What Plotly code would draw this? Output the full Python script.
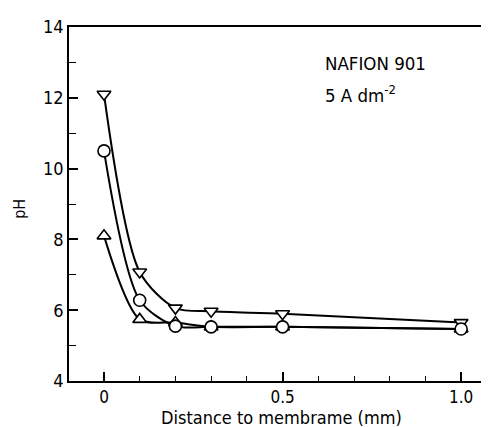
import plotly.graph_objects as go

x_vals = [0, 0.1, 0.2, 0.3, 0.5, 1.0]
ph_tri_down = [12.1, 7.08, 6.06, 5.97, 5.9, 5.65]
ph_circle = [10.5, 6.28, 5.55, 5.53, 5.53, 5.47]
x_tri_up = [0, 0.1, 0.2, 0.3, 0.5, 1.0]
ph_tri_up = [8.1, 5.74, 5.65, 5.53, 5.53, 5.47]

FONT = "DejaVu Sans Condensed, DejaVu Sans"
fig = go.Figure()

def add(xs, ys, sym):
    fig.add_trace(go.Scatter(
        x=xs, y=ys, mode="lines+markers",
        line=dict(color="black", width=2, shape="spline", smoothing=0.8),
        marker=dict(symbol=sym, size=12, color="white",
                    line=dict(color="black", width=1.6)),
        showlegend=False, cliponaxis=False))

add(x_tri_up, ph_tri_up, "triangle-up")
add(x_vals, ph_tri_down, "triangle-down")
add(x_vals, ph_circle, "circle")

fig.update_layout(
    width=489, height=427,
    margin=dict(l=61, r=8, t=15, b=54),
    plot_bgcolor="white", paper_bgcolor="white",
    font=dict(family=FONT, size=18, color="black"),
    xaxis=dict(range=[-0.098, 1.078], tickvals=[0, 0.5, 1.0],
               ticktext=["0", "0.5", "1.0"], ticks="inside", ticklen=9,
               tickwidth=1.5, tickcolor="black", showline=True,
               linecolor="black", linewidth=1.5, mirror=True,
               showgrid=False, zeroline=False, tickfont=dict(size=17),
               minor=dict(dtick=0.1, tick0=0, ticks="inside", ticklen=5,
                          tickwidth=1.2, tickcolor="black", showgrid=False)),
    yaxis=dict(range=[4, 14], tickvals=[4, 6, 8, 10, 12, 14],
               ticks="inside", ticklen=9, tickwidth=1.5, tickcolor="black",
               showline=True, linecolor="black", linewidth=1.5,
               showgrid=False, zeroline=False,
               minor=dict(dtick=1, tick0=4, ticks="inside", ticklen=7,
                          tickwidth=1.2, tickcolor="black", showgrid=False)),
)

fig.add_annotation(text="pH", xref="paper", yref="paper", x=-0.117, y=0.486,
                   xanchor="center", yanchor="middle",
                   textangle=-90, showarrow=False, font=dict(size=16))
fig.add_annotation(text="Distance to membrame (mm)", xref="paper", yref="paper",
                   x=0.505, y=-0.104, xanchor="center", yanchor="middle",
                   showarrow=False, font=dict(size=18))
fig.add_annotation(text="NAFION 901", xref="paper", yref="paper",
                   x=0.605, y=0.897, xanchor="left", yanchor="middle",
                   showarrow=False, font=dict(size=18.5))
fig.add_annotation(text="5 A dm<sup>-2</sup>", xref="paper", yref="paper",
                   x=0.605, y=0.812, xanchor="left", yanchor="middle",
                   showarrow=False, font=dict(size=18.5))

fig.write_html("out.html")
